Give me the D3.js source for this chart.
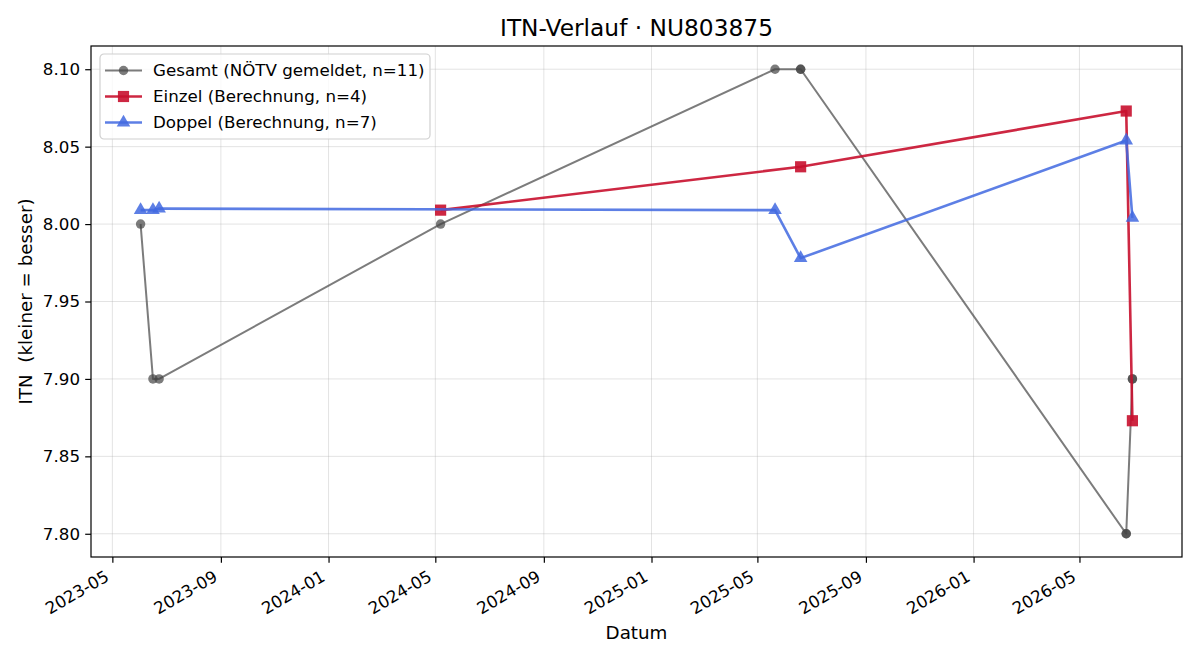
<!DOCTYPE html>
<html lang="de">
<head>
<meta charset="UTF-8">
<title>ITN-Verlauf</title>
<script src="https://d3js.org/d3.v7.min.js"></script>
<style>
  body { margin: 0; background: #fff; }
  text { font-family: "DejaVu Sans", sans-serif; }
</style>
</head>
<body>
<div id="chart"></div>
<script>
// data
const gesamtDates  = ["2023-06-02","2023-06-16","2023-06-23","2024-05-07","2025-05-21","2025-06-19","2025-06-19","2026-06-23","2026-06-23","2026-06-30","2026-06-30"];
const gesamtValues = [8.00, 7.90, 7.90, 8.00, 8.10, 8.10, 8.10, 7.80, 7.80, 7.90, 7.90];
const einzelDates  = ["2024-05-07","2025-06-19","2026-06-23","2026-06-30"];
const einzelValues = [8.009, 8.037, 8.073, 7.873];
const doppelDates  = ["2023-06-02","2023-06-16","2023-06-23","2025-05-21","2025-06-19","2026-06-23","2026-06-30"];
const doppelValues = [8.009, 8.009, 8.010, 8.009, 7.978, 8.054, 8.004];
const yTicks = [7.80, 7.85, 7.90, 7.95, 8.00, 8.05, 8.10];
const xTicks = ["2023-05","2023-09","2024-01","2024-05","2024-09","2025-01","2025-05","2025-09","2026-01","2026-05"];

const W = 1200, H = 660;
const m = {left: 91, right: 18, top: 46, bottom: 103};
const parse = d3.timeParse("%Y-%m-%d");
const parseM = d3.timeParse("%Y-%m");

const svg = d3.select("#chart").append("svg")
  .attr("width", W).attr("height", H);

const allDates = gesamtDates.concat(einzelDates, doppelDates).map(parse);
const [d0, d1] = d3.extent(allDates);
const pad = (d1 - d0) * 0.05;
const x = d3.scaleTime()
  .domain([new Date(+d0 - pad), new Date(+d1 + pad)])
  .range([m.left, W - m.right]);
const y = d3.scaleLinear()
  .domain([7.785, 8.115])
  .range([H - m.bottom, m.top]);

// grid
const grid = svg.append("g");
xTicks.forEach(t => {
  grid.append("line")
    .attr("x1", x(parseM(t))).attr("x2", x(parseM(t)))
    .attr("y1", m.top).attr("y2", H - m.bottom)
    .attr("stroke", "#b0b0b0").attr("stroke-opacity", 0.35).attr("stroke-width", 1);
});
yTicks.forEach(t => {
  grid.append("line")
    .attr("x1", m.left).attr("x2", W - m.right)
    .attr("y1", y(t)).attr("y2", y(t))
    .attr("stroke", "#b0b0b0").attr("stroke-opacity", 0.35).attr("stroke-width", 1);
});

// axes
const xAxis = svg.append("g")
  .attr("transform", `translate(0,${H - m.bottom})`)
  .call(d3.axisBottom(x).tickValues(xTicks.map(parseM)).tickFormat(d3.timeFormat("%Y-%m")).tickSize(5.8).tickSizeOuter(0));
xAxis.selectAll("text")
  .attr("font-size", "16.7px").attr("fill", "#000")
  .style("text-anchor", "end")
  .attr("x", 0).attr("y", 0).attr("dy", "0.75em")
  .attr("transform", "translate(-9,12) rotate(-30)");

const yAxis = svg.append("g")
  .attr("transform", `translate(${m.left},0)`)
  .call(d3.axisLeft(y).tickValues(yTicks).tickFormat(d3.format(".2f")).tickSize(5.8).tickSizeOuter(0));
yAxis.selectAll("text").attr("font-size", "16.7px").attr("fill", "#000").attr("x", -11);
svg.selectAll(".domain").remove();
svg.selectAll(".tick line").attr("stroke", "#000").attr("stroke-width", 1.2);

// frame
svg.append("rect")
  .attr("x", m.left).attr("y", m.top)
  .attr("width", W - m.left - m.right).attr("height", H - m.top - m.bottom)
  .attr("fill", "none").attr("stroke", "#000").attr("stroke-width", 1.2);

// series
const series = [
  {name: "Gesamt (NÖTV gemeldet, n=11)", dates: gesamtDates, values: gesamtValues, color: "#444444", opacity: 0.7, width: 2, marker: "circle"},
  {name: "Einzel (Berechnung, n=4)", dates: einzelDates, values: einzelValues, color: "#c8102e", opacity: 0.9, width: 2.6, marker: "square"},
  {name: "Doppel (Berechnung, n=7)", dates: doppelDates, values: doppelValues, color: "#4169e1", opacity: 0.85, width: 2.6, marker: "triangle"}
];
const symbolOf = {circle: d3.symbolCircle, square: d3.symbolSquare, triangle: d3.symbolTriangle};
const sizeOf = {circle: 70, square: 125, triangle: 80};

const line = d3.line().x(d => x(d[0])).y(d => y(d[1]));

series.forEach(s => {
  const pts = s.dates.map((d, i) => [parse(d), s.values[i]]);
  const g = svg.append("g");
  g.append("path").datum(pts)
    .attr("d", line)
    .attr("fill", "none")
    .attr("stroke", s.color).attr("stroke-opacity", s.opacity)
    .attr("stroke-width", s.width).attr("stroke-linejoin", "round");
  g.selectAll("path.mk").data(pts).join("path")
    .attr("class", "mk")
    .attr("d", d3.symbol().type(symbolOf[s.marker]).size(sizeOf[s.marker]))
    .attr("transform", d => `translate(${x(d[0])},${y(d[1])})`)
    .attr("fill", s.color).attr("fill-opacity", s.opacity);
});

// legend
const lg = svg.append("g").attr("transform", "translate(100,54)");
lg.append("rect")
  .attr("width", 330).attr("height", 85).attr("rx", 4)
  .attr("fill", "#fff").attr("fill-opacity", 0.8)
  .attr("stroke", "#d0d0d0").attr("stroke-width", 1.2);
series.forEach((s, i) => {
  const yy = 16.5 + i * 26;
  lg.append("line")
    .attr("x1", 5).attr("x2", 42).attr("y1", yy).attr("y2", yy)
    .attr("stroke", s.color).attr("stroke-opacity", s.opacity).attr("stroke-width", s.width);
  lg.append("path")
    .attr("d", d3.symbol().type(symbolOf[s.marker]).size(sizeOf[s.marker]))
    .attr("transform", `translate(23.5,${yy})`)
    .attr("fill", s.color).attr("fill-opacity", s.opacity);
  lg.append("text")
    .attr("x", 53).attr("y", yy).attr("dy", "0.35em")
    .attr("font-size", "16.7px").text(s.name);
});

// titles
svg.append("text")
  .attr("x", (m.left + W - m.right) / 2).attr("y", 36)
  .attr("text-anchor", "middle").attr("font-size", "23.3px")
  .text("ITN-Verlauf · NU803875");
svg.append("text")
  .attr("x", (m.left + W - m.right) / 2).attr("y", 639)
  .attr("text-anchor", "middle").attr("font-size", "18.3px")
  .text("Datum");
svg.append("text")
  .attr("transform", `translate(32,${(m.top + H - m.bottom) / 2}) rotate(-90)`)
  .attr("text-anchor", "middle").attr("font-size", "18.3px")
  .style("white-space", "pre")
  .text("ITN  (kleiner = besser)");
</script>
</body>
</html>
